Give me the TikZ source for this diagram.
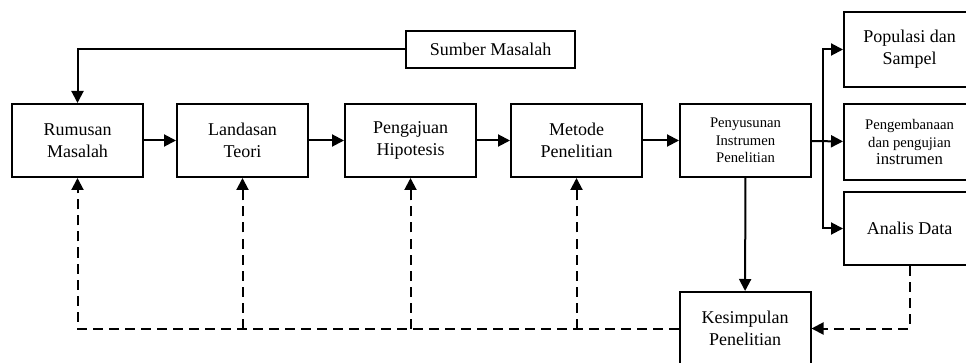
\documentclass[tikz,border=0pt]{standalone}
\usepackage{fontspec}
\setmainfont{Liberation Serif}
\usetikzlibrary{arrows.meta}

\begin{document}
\begin{tikzpicture} [x = 0.75pt, y = -0.75pt, > = {Triangle[length=9pt,width=9pt]}, line width = 1.5pt]
            % Estilo para os nós
            \tikzstyle{kotak}=[rectangle, draw, align=center, inner sep=2pt, minimum width=98.25pt, minimum height=54.75pt, font=\fontsize{13.5}{16.3}\selectfont]
            \tikzstyle{kecil}=[font=\fontsize{11}{13.2}\selectfont]
            \tikzstyle{putus}=[dashed, dash pattern=on 7.5pt off 4.5pt]

            \useasboundingbox (0,0) rectangle (966,363);
            \clip (0,0) rectangle (966,363);

            % Nós
            \node[kotak] (rumusan) at (77.5,140.5) {Rumusan\\Masalah};
            \node[kotak] (landasan) at (242.5,140.5) {Landasan\\Teori};
            \node[kotak] (pengajuan) at (410.5,140.5) {Pengajuan\\Hipotesis};
            \node[kotak] (metode) at (576.5,140.5) {Metode\\Penelitian};
            \node[kotak, kecil] (penyusunan) at (745.5,140.5) {Penyusunan\\Instrumen\\Penelitian};
            \node[kotak, minimum width=126.75pt, minimum height=27.75pt] (sumber) at (490.5,49.5) {Sumber Masalah};
            \node[kotak, minimum height=56.25pt] (populasi) at (909.5,49.5) {Populasi dan\\Sampel};
            \node[kotak, kecil, minimum height=57pt] (pengembangan) at (909.5,142) {Pengembanaan\\dan pengujian\\{\fontsize{12.5}{13.2}\selectfont instrumen}};
            \node[kotak] (analis) at (909.5,228.5) {Analis Data};
            \node[kotak] (kesimpulan) at (745,328.5) {Kesimpulan\\Penelitian};
            \coordinate (cabang) at (823,141);

            % Arestas
            \draw[->] (sumber.west) -| (rumusan.north);
            \draw[->] (rumusan) -- (landasan);
            \draw[->] (landasan) -- (pengajuan);
            \draw[->] (pengajuan) -- (metode);
            \draw[->] (metode) -- (penyusunan);
            \draw[->] (penyusunan) -- (pengembangan);
            \draw[->] (cabang) |- (populasi.west);
            \draw[->] (cabang) |- (analis.west);
            \draw[->] (penyusunan) -- (kesimpulan);

            % Umpan balik
            \draw[->, putus] (analis.south) |- (kesimpulan.east);
            \draw[->, putus] (kesimpulan.west) -| (rumusan.south);
            \draw[->, putus] (landasan.south |- kesimpulan.west) -- (landasan.south);
            \draw[->, putus] (pengajuan.south |- kesimpulan.west) -- (pengajuan.south);
            \draw[->, putus] (metode.south |- kesimpulan.west) -- (metode.south);
        \end{tikzpicture}
\end{document}
